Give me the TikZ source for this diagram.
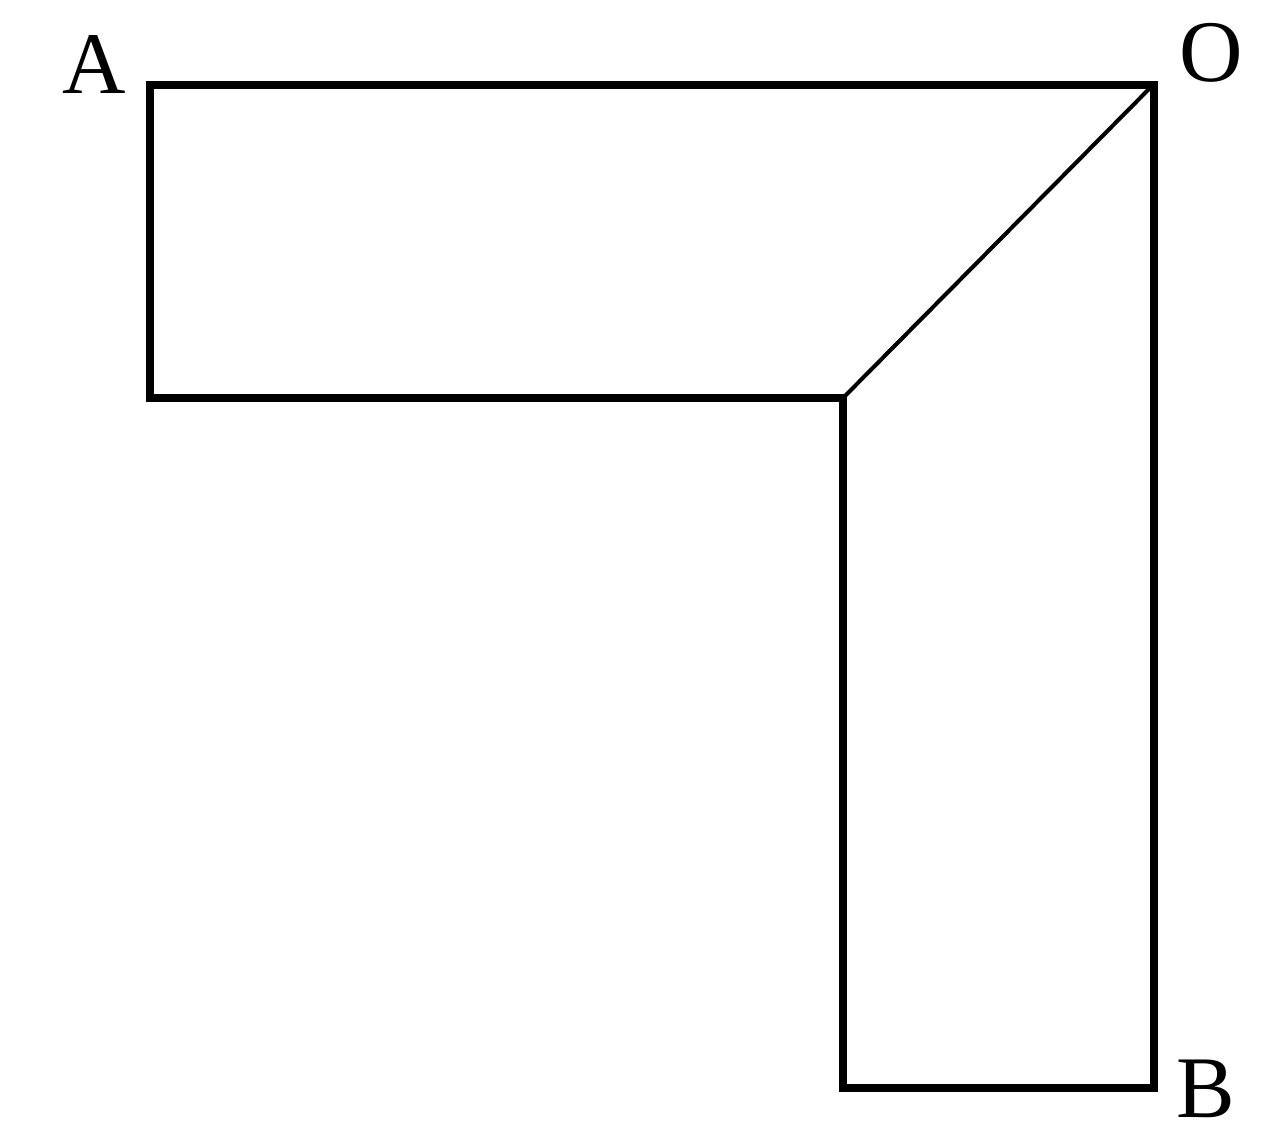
\documentclass[tikz,border=0pt]{standalone}
\usepackage{fontspec}
\setmainfont{Liberation Serif}
\begin{document}
\begin{tikzpicture}[
  outline/.style={line width=5pt, line join=miter},
  diag/.style={line width=2.3pt},
  lbl/.style={font=\fontsize{50}{60}\selectfont, inner sep=0pt, anchor=base}
]
\useasboundingbox (0,0) rectangle (25.6,-22.92);
\coordinate (A) at (3.0,-1.7);
\coordinate (O) at (23.08,-1.7);
\coordinate (B) at (23.08,-21.76);
\coordinate (BL) at (16.86,-21.76);
\coordinate (C) at (16.86,-7.96);
\coordinate (AL) at (3.0,-7.96);
\coordinate (Oin) at (23.0,-1.76);
\draw[outline] (A) -- (O) -- (B) -- (BL) -- (C) -- (AL) -- cycle;
\draw[diag] (C) -- (Oin);
\node[lbl] (la) at (1.88,-1.86) {A};
\node[lbl] (lo) at (24.22,-1.62) {O};
\node[lbl] (lb) at (24.12,-22.34) {B};
\end{tikzpicture}
\end{document}
